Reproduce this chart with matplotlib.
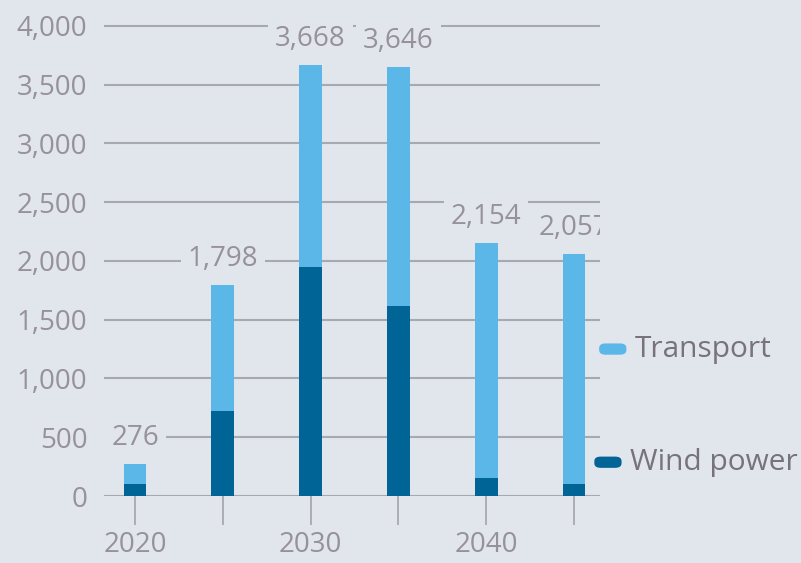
import matplotlib.pyplot as plt
from matplotlib.patches import FancyBboxPatch

# Data
years = [2020, 2025, 2030, 2035, 2040, 2045]
wind_power = [100, 725, 1950, 1620, 150, 100]
totals = [276, 1798, 3668, 3646, 2154, 2057]
transport = [t - w for t, w in zip(totals, wind_power)]
yticks = [0, 500, 1000, 1500, 2000, 2500, 3000, 3500, 4000]
xlabels = {2020: "2020", 2030: "2030", 2040: "2040"}

bg = "#e1e6ed"
light = "#5ab7e8"
dark = "#006496"
grid_c = "#a8a8b2"
text_c = "#979199"

plt.rcParams['font.family'] = ['Open Sans', 'DejaVu Sans']

fig = plt.figure(figsize=(8.01, 5.63), dpi=100, facecolor=bg)
ax = fig.add_axes([0.13, 0.119, 0.619, 0.877])
ax.set_facecolor(bg)

ax.bar(years, wind_power, width=1.3, color=dark, zorder=3)
ax.bar(years, transport, width=1.3, bottom=wind_power, color=light, zorder=3)

ax.set_xlim(2018.24, 2046.48)
ax.set_ylim(0, 4200)
ax.set_yticks(yticks)
ax.set_yticklabels([f"{v:,}" for v in yticks])
for v in yticks:
    ax.axhline(v, color=grid_c, lw=1.5, zorder=1)

ax.set_xticks(years)
ax.set_xticklabels([xlabels.get(y, "") for y in years])

for s in ax.spines.values():
    s.set_visible(False)
ax.tick_params(axis='y', length=0, pad=12, labelsize=20, labelcolor=text_c)
ax.tick_params(axis='x', length=21, width=1.3, color=grid_c, pad=4,
               labelsize=20, labelcolor=text_c)

for x, t in zip(years, totals):
    ax.annotate(f"{t:,}", xy=(x, t), xytext=(0, 26), textcoords='offset pixels',
                ha='center', va='center', fontsize=20, color=text_c, zorder=4,
                annotation_clip=False, clip_on=True,
                bbox=dict(boxstyle='square,pad=0.25', fc=bg, ec='none'))

# legend
def legend_item(x, y, color, label):
    p = FancyBboxPatch((x, y - 0.01), 0.034, 0.02, boxstyle='round,pad=0,rounding_size=0.008',
                       transform=fig.transFigure, fc=color, ec='none')
    fig.patches.append(p)
    fig.text(x + 0.045, y, label, fontsize=21.5, color="#77727c", va='center', ha='left')

legend_item(0.748, 0.38, light, "Transport")
legend_item(0.742, 0.179, dark, "Wind power")

fig.savefig("out.png", dpi=100, facecolor=bg)
